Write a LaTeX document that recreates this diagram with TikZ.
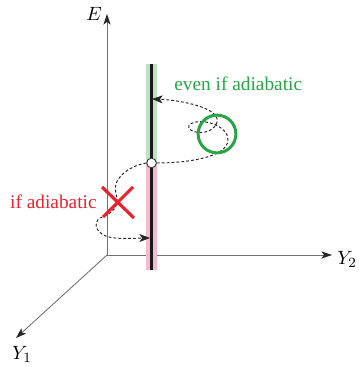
\documentclass[tikz,border=0pt]{standalone}
\usepackage{fontspec}
\setmainfont{Liberation Serif}
\usepackage{tikz}
\usetikzlibrary{arrows.meta,positioning}
\definecolor{mygreen}{RGB}{40,165,70}
\definecolor{myred}{RGB}{232,35,45}
\definecolor{lightgreen}{RGB}{190,225,195}
\definecolor{lightpink}{RGB}{246,185,205}
\definecolor{axisgray}{RGB}{115,115,115}

\begin{document}
\begin{tikzpicture}[x=0.02cm, y=-0.02cm,
  axis/.style={draw=axisgray, line width=0.5pt, -{Stealth[length=6pt,width=4pt,inset=1.5pt,black!85]}},
  path/.style={dash pattern=on 1.6pt off 1.2pt, line width=0.55pt, black!85},
  patharr/.style={path, -{Stealth[length=6pt,width=4.5pt,inset=1.5pt,black!85]}},
  lbl/.style={inner sep=0pt, font=\fontsize{11}{13}\selectfont}
]
  \useasboundingbox (0,0) rectangle (358,367);
  % axes
  \coordinate (orig) at (107,255);
  \coordinate (etip) at (107,14);
  \coordinate (ytwotip) at (332,255);
  \coordinate (yonetip) at (16,338);
  \draw[axis] (orig) -- (etip);
  \draw[axis] (orig) -- (ytwotip);
  \draw[axis] (orig) -- (yonetip);
  \node[lbl] (elbl) at (94,14) {$E$};
  \node[lbl] (ytwolbl) at (347,259) {$Y_2$};
  \node[lbl] (yonelbl) at (22,354) {$Y_1$};
  % bar
  \fill[lightgreen] (146,64) rectangle (157,163);
  \fill[lightpink] (146,163) rectangle (157,270);
  \draw[line width=1.3pt, black!90] (151.5,64) -- (151.5,270);
  \node[circle, draw=black!80, fill=white, line width=0.5pt,
        minimum size=5.5pt, inner sep=0pt] (mid) at (151.5,163) {};
  \coordinate (uparr) at (152,99);
  \coordinate (lowarr) at (150,238);
  % dashed paths
  \draw[patharr] (mid.east) .. controls (185,163) and (227,158) .. (228,140)
    .. controls (229,126) and (200,116) .. (189,125)
    .. controls (185,133) and (212,138) .. (217,122)
    .. controls (221,108) and (180,100) .. (uparr);
  \draw[patharr] (mid.west) .. controls (128,166) and (111,180) .. (116,194)
    .. controls (120,205) and (114,213) .. (100,218)
    .. controls (93,222) and (94,236) .. (115,238)
    .. controls (128,239) and (138,238) .. (lowarr);
  % marks
  \node[circle, draw=mygreen, line width=1.7pt,
        minimum size=21.5pt, inner sep=0pt] (ok) at (217,134) {};
  \draw[myred, line width=1.8pt] (102,187) -- (134,218);
  \draw[myred, line width=1.8pt] (133,187) -- (103,217);
  \coordinate (cross) at (118,202);
  \node[lbl, text=mygreen, anchor=west] (evenlbl) at (174,84) {even if adiabatic};
  \node[lbl, text=myred, left=12pt of cross] (iflbl) {if adiabatic};
\end{tikzpicture}
\end{document}
